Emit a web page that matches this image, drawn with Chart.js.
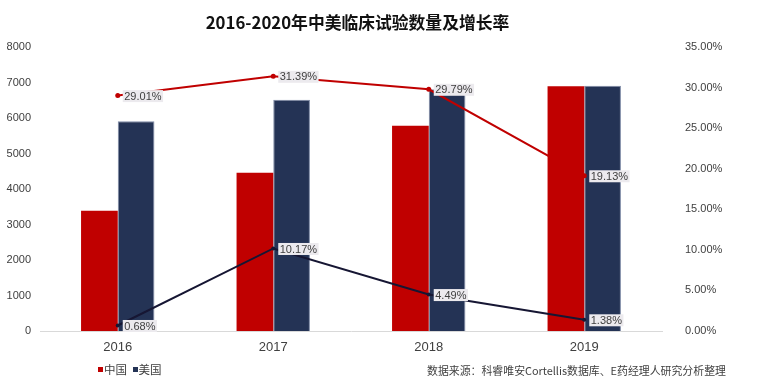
<!DOCTYPE html>
<html>
<head>
<meta charset="utf-8">
<script src="https://cdn.jsdelivr.net/npm/chart.js@4.4.1/dist/chart.umd.min.js"></script>
<style>
  html, body { margin: 0; padding: 0; background: #fff; }
  #wrap { position: relative; width: 759px; height: 385px; overflow: hidden; }
  #c { position: absolute; left: 0; top: 0; }
  .txt { position: absolute; white-space: nowrap; font-family: "Liberation Sans", Arial, "Noto Sans CJK SC", sans-serif; }
  #title { left: 0; width: 715px; top: 10px; text-align: center; font-family: "Noto Sans CJK SC", sans-serif; font-weight: bold; font-size: 16.8px; line-height: 24px; color: #111; }
  #legend { left: 98px; top: 361px; font-size: 11.5px; line-height: 16px; color: #404040; font-family: "Noto Sans CJK SC", sans-serif; }
  #legend span.sw { display: inline-block; width: 5px; height: 5px; margin-right: 1px; vertical-align: 2px; }
  #source { left: 427px; top: 362px; font-size: 10.9px; line-height: 16px; color: #404040; font-family: "Noto Sans CJK SC", sans-serif; }
</style>
</head>
<body>
<div id="wrap">
  <canvas id="c" width="759" height="385"></canvas>
  <div id="title" class="txt">2016-2020年中美临床试验数量及增长率</div>
  <div id="legend" class="txt"><span class="sw" style="background:#C00000"></span>中国 <span class="sw" style="background:#243355;margin-left:3px"></span>美国</div>
  <div id="source" class="txt">数据来源：科睿唯安Cortellis数据库、E药经理人研究分析整理</div>
</div>
<script>
const categories = ['2016', '2017', '2018', '2019'];
const chinaTrials = [3390, 4460, 5785, 6895];
const usTrials = [5910, 6515, 6810, 6905];
const chinaGrowth = [29.01, 31.39, 29.79, 19.13];
const usGrowth = [0.68, 10.17, 4.49, 1.38];
const seriesNames = ['中国', '美国', '中国增长率', '美国增长率'];

const labelPlugin = {
  id: 'pointLabels',
  afterDatasetsDraw(chart) {
    const ctx = chart.ctx;
    ctx.save();
    ctx.font = '11px "Liberation Sans", Arial, sans-serif';
    ctx.textBaseline = 'middle';
    chart.data.datasets.forEach((ds, i) => {
      if (ds.type !== 'line') return;
      const meta = chart.getDatasetMeta(i);
      meta.data.forEach((pt, j) => {
        const text = ds.data[j].toFixed(2) + '%';
        const w = ctx.measureText(text).width;
        const x = pt.x + 5;
        const y = pt.y + 0.5;
        ctx.fillStyle = '#ECEAEE';
        ctx.fillRect(x, y - 6, w + 3, 12);
        ctx.fillStyle = '#404040';
        ctx.fillText(text, x + 1.5, y + 0.5);
      });
    });
    ctx.restore();
  }
};

new Chart(document.getElementById('c'), {
  data: {
    labels: categories,
    datasets: [
      { type: 'bar', label: seriesNames[0], data: chinaTrials, backgroundColor: '#C00000', borderColor: '#D24A4A', borderWidth: 0, yAxisID: 'y', order: 2 },
      { type: 'bar', label: seriesNames[1], data: usTrials, backgroundColor: '#243355', borderColor: '#7F8BA6', borderWidth: 1, yAxisID: 'y', order: 2 },
      { type: 'line', label: seriesNames[2], data: chinaGrowth, borderColor: '#C00000', backgroundColor: '#C00000', borderWidth: 2, pointRadius: 2.5, pointBorderWidth: 0, tension: 0, yAxisID: 'y1', order: 1 },
      { type: 'line', label: seriesNames[3], data: usGrowth, borderColor: '#161633', backgroundColor: '#161633', borderWidth: 2, pointRadius: 2, pointBorderWidth: 0, tension: 0, yAxisID: 'y1', order: 1 }
    ]
  },
  options: {
    responsive: false,
    animation: false,
    devicePixelRatio: 1,
    layout: { padding: { top: 47, left: 0, right: 0, bottom: 0 } },
    datasets: { bar: { categoryPercentage: 0.472, barPercentage: 1 } },
    plugins: { legend: { display: false }, title: { display: false }, tooltip: { enabled: false } },
    scales: {
      x: {
        grid: { display: false },
        border: { display: true, color: '#D9D9D9', width: 1 },
        ticks: { color: '#404040', font: { family: '"Liberation Sans", Arial, sans-serif', size: 13 }, padding: 1 },
        afterFit(s) { s.height = 54; }
      },
      y: {
        position: 'left',
        min: 0, max: 8000,
        grid: { display: false },
        border: { display: false },
        ticks: { stepSize: 1000, color: '#404040', font: { family: '"Liberation Sans", Arial, sans-serif', size: 11 }, padding: 1, callback: v => String(v) },
        afterFit(s) { s.width = 40; }
      },
      y1: {
        position: 'right',
        min: 0, max: 35,
        grid: { display: false },
        border: { display: false },
        ticks: { stepSize: 5, color: '#404040', font: { family: '"Liberation Sans", Arial, sans-serif', size: 11 }, padding: 15, callback: v => v.toFixed(2) + '%' },
        afterFit(s) { s.width = 97; }
      }
    }
  },
  plugins: [labelPlugin]
});
</script>
</body>
</html>
